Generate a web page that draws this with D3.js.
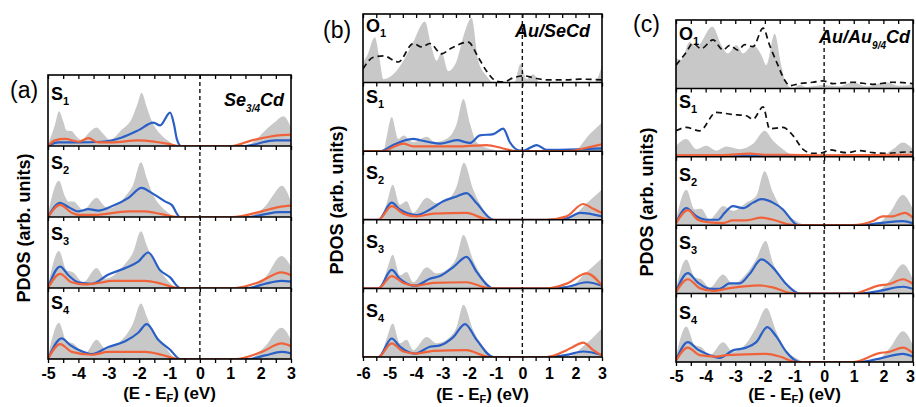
<!DOCTYPE html>
<html>
<head>
<meta charset="utf-8">
<script src="https://cdn.jsdelivr.net/npm/d3@7"></script>
<style>
  body { margin: 0; background: #fff; }
  svg { display: block; font-family: "Liberation Sans", Arial, sans-serif; }
</style>
</head>
<body>
<svg id="chart" width="916" height="407"></svg>
<script>
// ===== data: [E - E_F (eV), PDOS in % of sub-panel height] =====
// panel (a) Se3/4Cd
const aS1tot = [[-5,3],[-4.77,30],[-4.64,49],[-4.5,35],[-4.39,22],[-4.22,21],[-4.1,15],[-3.89,8],[-3.67,18],[-3.4,26],[-3.2,18],[-2.96,9],[-2.6,22],[-2.25,38],[-2.05,60],[-1.92,75],[-1.75,55],[-1.59,36],[-1.26,15],[-1.0,6],[-0.71,0],[1.4,0],[1.71,4],[2.15,22],[2.45,33],[2.75,42],[3,26]];
const aS1b = [[-5,0],[-4.66,5],[-4.0,5],[-3.23,6],[-2.57,12],[-2.03,22],[-1.53,33],[-1.31,29],[-0.98,47],[-0.85,30],[-0.76,10],[-0.62,0],[1.49,0],[1.8,2],[2.04,5],[2.48,8],[3,8]];
const aS1r = [[-5,0],[-4.77,8],[-4.44,10],[-4.0,6],[-3.67,11],[-3.34,5],[-2.9,5],[-2.03,8],[-1.48,6],[-1.04,3],[-0.71,0],[1.05,0],[1.71,8],[2.15,12],[2.59,15],[3,16]];
const aS2tot = [[-5,5],[-4.64,51],[-4.45,30],[-4.33,22],[-4.17,22],[-3.84,10],[-3.4,27],[-3.2,18],[-3.01,12],[-2.46,29],[-2.2,45],[-1.94,77],[-1.75,55],[-1.59,36],[-1.15,10],[-0.71,0],[1.49,0],[2.15,15],[2.4,30],[2.7,44],[3,22]];
const aS2b = [[-5,0],[-4.6,20],[-4.33,14],[-4.0,8],[-3.67,11],[-3.34,9],[-2.9,15],[-2.35,27],[-1.92,41],[-1.59,34],[-1.15,22],[-0.93,17],[-0.65,0],[1.6,0],[2.15,4],[2.59,7],[3,7]];
const aS2r = [[-5,0],[-4.6,17],[-4.22,6],[-4.0,3],[-3.45,3],[-2.35,8],[-1.81,8],[-1.26,4],[-0.71,0],[1.05,0],[2.04,8],[2.59,14],[3,16]];
const aS3tot = [[-5,3],[-4.64,52],[-4.39,25],[-4.17,22],[-3.84,8],[-3.4,28],[-3.12,13],[-2.46,34],[-2.2,50],[-1.94,80],[-1.75,60],[-1.59,44],[-1.2,18],[-0.71,0],[1.49,0],[2.15,15],[2.69,45],[3,30]];
const aS3b = [[-5,0],[-4.6,30],[-4.33,18],[-4.0,8],[-3.56,6],[-3.01,19],[-2.46,28],[-2.03,37],[-1.7,50],[-1.31,25],[-0.98,15],[-0.65,0],[1.6,0],[2.15,6],[2.69,10],[3,9]];
const aS3r = [[-5,0],[-4.6,20],[-4.22,8],[-3.78,5],[-3.34,7],[-2.9,10],[-1.81,10],[-1.26,6],[-0.71,0],[1.16,0],[1.93,8],[2.69,22],[3,18]];
const aS4tot = [[-5,3],[-4.64,51],[-4.39,25],[-4.17,22],[-3.78,8],[-3.4,27],[-3.12,15],[-2.46,32],[-2.2,50],[-1.94,78],[-1.75,60],[-1.59,44],[-1.2,20],[-0.71,0],[1.6,0],[2.15,18],[2.69,44],[3,27]];
const aS4b = [[-5,0],[-4.55,29],[-4.28,20],[-4.0,13],[-3.56,7],[-3.01,17],[-2.46,25],[-2.03,37],[-1.75,49],[-1.37,27],[-0.98,13],[-0.65,0],[1.6,0],[2.15,5],[2.69,10],[3,8]];
const aS4r = [[-5,0],[-4.6,21],[-4.22,10],[-3.56,6],[-3.01,10],[-1.81,10],[-1.26,6],[-0.71,0],[1.16,0],[2.04,10],[2.69,22],[3,18]];

// panel (b) Au/SeCd
const bO1tot = [[-6,30],[-5.86,38],[-5.55,66],[-5.4,40],[-5.23,5],[-4.86,12],[-4.48,32],[-4.11,59],[-3.67,89],[-3.42,52],[-3.23,32],[-3.04,44],[-2.79,17],[-2.47,32],[-2.2,70],[-1.91,94],[-1.66,32],[-1.35,10],[-1.09,0],[-0.3,0],[-0.07,27],[0.16,5],[0.41,12],[0.66,0],[2.7,0],[3,25]];
const bO1dash = [[-6,20],[-5.61,37],[-5.23,39],[-4.67,30],[-4.11,57],[-3.79,52],[-3.48,57],[-3.04,42],[-2.73,49],[-2.04,59],[-1.66,37],[-1.35,17],[-0.97,2],[-0.72,1],[-0.34,7],[0.04,10],[0.41,7],[0.91,4],[1.67,4],[2.17,5],[3,4]];
const bS1tot = [[-6,0],[-5.23,0],[-5.11,21],[-4.92,50],[-4.67,18],[-4.48,23],[-4.11,13],[-3.6,21],[-3.29,13],[-2.85,18],[-2.47,40],[-2.22,76],[-1.97,40],[-1.72,13],[-1.09,2],[-0.84,0],[1.92,0],[2.54,25],[3,42]];
const bS1b = [[-6,0],[-5.36,0],[-4.86,9],[-4.48,15],[-4.11,18],[-3.85,16],[-3.48,13],[-3.1,11],[-2.47,16],[-1.97,12],[-1.6,23],[-1.09,25],[-0.72,33],[-0.47,13],[-0.09,1],[0.04,1],[0.54,9],[0.91,2],[1.42,2],[3,4]];
const bS1r = [[-6,0],[-5.23,0],[-4.86,6],[-4.48,11],[-4.11,7],[-3.6,7],[-2.35,7],[-1.35,9],[-0.72,4],[-0.22,0],[1.67,0],[2.42,5],[3,10]];
const bS2tot = [[-6,0],[-5.36,0],[-5.11,24],[-4.88,51],[-4.61,22],[-4.36,27],[-4.11,10],[-3.6,32],[-3.23,24],[-2.73,32],[-2.47,49],[-2.2,83],[-1.85,44],[-1.47,15],[-1.09,1],[-0.9,0],[1.67,0],[2.42,24],[3,44]];
const bS2b = [[-6,0],[-5.42,0],[-4.92,25],[-4.61,15],[-3.98,7],[-3.48,15],[-2.98,27],[-2.47,34],[-2.1,39],[-1.72,24],[-1.09,0],[0.91,0],[1.67,2],[2.17,10],[3,5]];
const bS2r = [[-6,0],[-5.42,0],[-4.92,20],[-4.48,9],[-3.98,5],[-3.35,9],[-2.1,10],[-1.47,2],[-1.2,0],[0.91,0],[1.67,5],[2.29,23],[2.67,16],[3,10]];
const bS3tot = [[-6,0],[-5.36,0],[-5.11,26],[-4.88,49],[-4.61,19],[-4.36,24],[-4.11,9],[-3.6,31],[-3.23,22],[-2.73,31],[-2.47,46],[-2.22,78],[-1.85,41],[-1.47,14],[-1.09,1],[-0.9,0],[1.67,0],[2.42,24],[3,44]];
const bS3b = [[-6,0],[-5.42,0],[-4.92,27],[-4.61,14],[-4.04,4],[-3.48,14],[-3.1,18],[-2.6,31],[-2.1,46],[-1.72,24],[-1.09,0],[0.91,0],[1.67,2],[2.42,9],[3,4]];
const bS3r = [[-6,0],[-5.42,0],[-4.92,18],[-4.48,8],[-3.98,4],[-3.35,8],[-2.1,9],[-1.47,2],[-1.2,0],[0.91,0],[1.67,7],[2.42,22],[3,4]];
const bS4tot = [[-6,0],[-5.36,0],[-5.11,27],[-4.88,49],[-4.61,20],[-4.36,25],[-4.11,10],[-3.6,29],[-3.23,20],[-2.73,29],[-2.47,44],[-2.22,76],[-1.85,39],[-1.47,15],[-1.09,1],[-0.9,0],[1.67,0],[2.42,20],[3,42]];
const bS4b = [[-6,0],[-5.42,0],[-4.92,27],[-4.61,15],[-4.04,5],[-3.48,15],[-3.1,17],[-2.6,29],[-2.16,48],[-1.72,25],[-1.09,0],[0.91,0],[1.67,3],[2.29,8],[3,3]];
const bS4r = [[-6,0],[-5.42,0],[-4.92,20],[-4.48,8],[-3.98,5],[-3.35,9],[-2.1,10],[-1.47,2],[-1.2,0],[0.91,0],[1.67,10],[1.92,15],[2.29,21],[2.67,10],[3,2]];

// panel (c) Au/Au9/4Cd
const cO1tot = [[-5,44],[-4.82,42],[-4.54,68],[-4.31,61],[-3.77,90],[-3.47,63],[-3.25,51],[-2.96,63],[-2.74,51],[-2.4,63],[-2.12,49],[-1.95,34],[-1.67,80],[-1.45,34],[-1.28,7],[-1.05,0],[-0.83,5],[-0.6,2],[-0.38,3],[-0.04,5],[0.5,3],[0.97,9],[1.42,3],[2.1,9],[2.5,4],[3,5]];
const cO1dash = [[-5,34],[-4.65,53],[-4.43,66],[-4.15,58],[-3.75,71],[-3.41,56],[-3.19,63],[-2.91,56],[-2.68,64],[-2.4,61],[-2.06,88],[-1.84,63],[-1.56,34],[-1.33,12],[-1.16,4],[-0.83,7],[-0.38,9],[-0.04,11],[0.3,7],[0.97,9],[1.65,6],[2.32,9],[3,7]];
const cS1tot = [[-5,16],[-4.65,26],[-4.31,11],[-3.98,16],[-3.64,9],[-3.3,15],[-2.85,11],[-2.4,19],[-2.01,38],[-1.73,24],[-1.39,11],[-1.05,2],[-0.6,0],[1.87,0],[2.32,11],[2.66,21],[3,11]];
const cS1dash = [[-5,38],[-4.65,43],[-4.2,38],[-3.64,65],[-3.13,62],[-2.63,60],[-2.4,55],[-2.06,73],[-1.84,41],[-1.39,43],[-1.05,31],[-0.71,11],[-0.38,5],[-0.04,6],[0.19,10],[0.75,6],[1.2,9],[1.65,6],[2.1,5],[2.77,7],[3,7]];
const cS1b = [[-5,1.5],[3,1.5]];
const cS1r = [[-5,2],[-3.4,2.5],[-2.51,4.5],[-1.95,3],[-1.16,3],[-0.04,2],[3,3]];
const cS2tot = [[-5,8],[-4.65,52],[-4.37,23],[-4.15,24],[-3.86,8],[-3.64,18],[-3.41,28],[-3.08,21],[-2.63,33],[-2.29,43],[-2.01,79],[-1.73,48],[-1.39,21],[-0.94,6],[-0.6,0],[1.65,0],[2.21,18],[2.66,44],[3,23]];
const cS2b = [[-5,3],[-4.65,25],[-4.31,13],[-3.98,8],[-3.58,8],[-3.36,18],[-3.08,28],[-2.74,25],[-2.4,33],[-2.12,38],[-1.73,33],[-1.39,23],[-1.16,11],[-0.94,1],[-0.83,0],[1.2,0],[1.87,3],[2.66,6],[3,3]];
const cS2r = [[-5,3],[-4.6,22],[-4.26,8],[-3.86,4],[-3.41,3],[-3.08,7],[-2.63,7],[-2.12,11],[-1.73,8],[-1.16,1],[-0.9,0],[0.97,0],[1.65,6],[1.98,13],[2.32,13],[2.72,18],[3,11]];
const cS3tot = [[-5,7],[-4.65,50],[-4.37,24],[-4.15,21],[-3.86,9],[-3.41,28],[-3.08,14],[-2.63,29],[-2.3,50],[-1.97,77],[-1.73,45],[-1.39,21],[-0.94,4],[-0.71,0],[1.65,0],[2.21,19],[2.66,43],[3,21]];
const cS3b = [[-5,3],[-4.6,30],[-4.26,16],[-3.86,7],[-3.53,7],[-3.19,15],[-2.85,15],[-2.51,29],[-2.12,50],[-1.73,38],[-1.28,14],[-0.83,0],[1.2,0],[1.87,4],[2.66,10],[3,7]];
const cS3r = [[-5,2],[-4.6,21],[-4.2,8],[-3.75,4],[-3.19,8],[-2.18,12],[-1.73,9],[-1.16,1],[-0.9,0],[0.97,0],[1.87,12],[2.21,14],[2.66,21],[3,14]];
const cS4tot = [[-5,8],[-4.65,52],[-4.37,25],[-4.15,22],[-3.86,10],[-3.41,29],[-3.08,15],[-2.63,27],[-2.3,50],[-1.95,79],[-1.61,44],[-1.28,17],[-0.83,3],[-0.71,0],[1.65,0],[2.21,20],[2.66,45],[3,25]];
const cS4b = [[-5,3],[-4.6,29],[-4.26,18],[-3.86,10],[-3.53,6],[-3.08,17],[-2.63,21],[-2.29,29],[-1.92,51],[-1.61,37],[-1.28,15],[-0.83,0],[1.2,0],[1.87,5],[2.66,12],[3,8]];
const cS4r = [[-5,2],[-4.6,21],[-4.2,10],[-3.64,8],[-3.3,10],[-1.95,12],[-1.5,8],[-1.05,1],[-0.9,0],[0.97,0],[1.87,13],[2.21,15],[2.66,21],[3,13]];

const BLUE = '#2a5fc6', RED = '#f0633a', GREY = '#c8c8c8';

const svg = d3.select('#chart');

// panel layout
const panels = [
  { tag:'(a)', tagX:10, tagY:98, x0:48, x1:291, y0:75, y1:359, xmin:-5, xmax:3,
    title:['Se','3/4','Cd'], titleX:284, titleY:106, ylabX:30, ylabY:228, tickPad:5, xlabY:399,
    rows:[
      {lab:'S', sub:'1', off:25, tot:aS1tot, b:aS1b, r:aS1r},
      {lab:'S', sub:'2', off:23, tot:aS2tot, b:aS2b, r:aS2r},
      {lab:'S', sub:'3', off:23, tot:aS3tot, b:aS3b, r:aS3r},
      {lab:'S', sub:'4', off:21, tot:aS4tot, b:aS4b, r:aS4r}
    ]},
  { tag:'(b)', tagX:323, tagY:38, x0:363, x1:602, y0:14, y1:357, xmin:-6, xmax:3,
    title:['Au/SeCd'], titleX:590, titleY:37, ylabX:343, ylabY:200, tickPad:7, xlabY:400,
    rows:[
      {lab:'O', sub:'1', off:18, tot:bO1tot, dash:bO1dash},
      {lab:'S', sub:'1', off:20, tot:bS1tot, b:bS1b, r:bS1r},
      {lab:'S', sub:'2', off:28, tot:bS2tot, b:bS2b, r:bS2r},
      {lab:'S', sub:'3', off:28, tot:bS3tot, b:bS3b, r:bS3r},
      {lab:'S', sub:'4', off:29, tot:bS4tot, b:bS4b, r:bS4r}
    ]},
  { tag:'(c)', tagX:633, tagY:32, x0:676, x1:913, y0:20, y1:362, xmin:-5, xmax:3,
    title:['Au/Au','9/4','Cd'], titleX:910, titleY:43, ylabX:653, ylabY:202, tickPad:5, xlabY:400,
    rows:[
      {lab:'O', sub:'1', off:20, tot:cO1tot, dash:cO1dash},
      {lab:'S', sub:'1', off:20, tot:cS1tot, dash:cS1dash, b:cS1b, r:cS1r},
      {lab:'S', sub:'2', off:24, tot:cS2tot, b:cS2b, r:cS2r},
      {lab:'S', sub:'3', off:24, tot:cS3tot, b:cS3b, r:cS3r},
      {lab:'S', sub:'4', off:25, tot:cS4tot, b:cS4b, r:cS4r}
    ]}
];

panels.forEach((p, pi) => {
  const g = svg.append('g');
  const x = d3.scaleLinear().domain([p.xmin, p.xmax]).range([p.x0, p.x1]);
  const band = d3.scaleBand().domain(d3.range(p.rows.length)).range([p.y0, p.y1]);
  const h = band.bandwidth();
  const halfTicks = d3.range(p.xmin, p.xmax + 0.001, 0.5);

  p.rows.forEach((r, i) => {
    const top = band(i);
    const y = d3.scaleLinear().domain([0, 100]).range([top + h, top]);
    const cid = `clip-${pi}-${i}`;
    svg.append('clipPath').attr('id', cid).append('rect')
      .attr('x', p.x0).attr('y', top).attr('width', p.x1 - p.x0).attr('height', h);
    const sub = g.append('g').attr('clip-path', `url(#${cid})`);

    const area = d3.area().curve(d3.curveMonotoneX)
      .x(d => x(d[0])).y0(y(0)).y1(d => y(d[1]));
    const line = d3.line().curve(d3.curveMonotoneX)
      .x(d => x(d[0])).y(d => y(d[1]));

    sub.append('path').attr('d', area(r.tot)).attr('fill', GREY);
    if (r.dash) sub.append('path').attr('d', line(r.dash))
      .attr('fill', 'none').attr('stroke', '#111').attr('stroke-width', 1.7)
      .attr('stroke-dasharray', '6,4');
    if (r.b) sub.append('path').attr('d', line(r.b))
      .attr('fill', 'none').attr('stroke', BLUE).attr('stroke-width', 2.2);
    if (r.r) sub.append('path').attr('d', line(r.r))
      .attr('fill', 'none').attr('stroke', RED).attr('stroke-width', 2.2);

    // inward ticks on top edge of each sub-panel
    const ax = g.append('g').attr('transform', `translate(0,${top})`)
      .call(d3.axisTop(x).tickValues(halfTicks).tickSize(-4).tickFormat(''));
    ax.select('.domain').remove();
    ax.selectAll('line').attr('stroke', '#000').attr('stroke-width', 1.3);

    // row label
    const t = g.append('text').attr('x', p.x0 + 3).attr('y', top + r.off)
      .attr('font-size', 18).attr('font-weight', 'bold');
    t.append('tspan').text(r.lab);
    t.append('tspan').attr('font-size', 11).attr('dy', 5).text(r.sub);

    if (i > 0) g.append('line').attr('x1', p.x0).attr('x2', p.x1)
      .attr('y1', top).attr('y2', top).attr('stroke', '#000').attr('stroke-width', 1.5);
  });

  // Fermi level
  g.append('line').attr('x1', x(0)).attr('x2', x(0)).attr('y1', p.y0).attr('y2', p.y1)
    .attr('stroke', '#111').attr('stroke-width', 1.4).attr('stroke-dasharray', '4,3');

  // frame
  g.append('rect').attr('x', p.x0).attr('y', p.y0)
    .attr('width', p.x1 - p.x0).attr('height', p.y1 - p.y0)
    .attr('fill', 'none').attr('stroke', '#000').attr('stroke-width', 1.6);

  // bottom axis
  const bx = g.append('g').attr('transform', `translate(0,${p.y1})`)
    .call(d3.axisBottom(x).tickValues(halfTicks).tickSize(4).tickPadding(p.tickPad)
      .tickFormat(d => Number.isInteger(d) ? String(d) : ''));
  bx.select('.domain').remove();
  bx.selectAll('line').attr('stroke', '#000').attr('stroke-width', 1.3);
  bx.selectAll('text').attr('font-family', '"Liberation Sans", Arial, sans-serif')
    .attr('font-size', 16).attr('font-weight', 'bold').attr('fill', '#000')
    .attr('dx', d => (x(d) > 905 ? -3 : 0));

  // x label
  const xl = g.append('text').attr('x', (p.x0 + p.x1) / 2).attr('y', p.xlabY)
    .attr('text-anchor', 'middle').attr('font-size', 17).attr('font-weight', 'bold');
  xl.append('tspan').text('(E - E');
  xl.append('tspan').attr('font-size', 11).attr('dy', 3).text('F');
  xl.append('tspan').attr('dy', -3).text(') (eV)');

  // y label
  g.append('text').attr('transform', `translate(${p.ylabX},${p.ylabY}) rotate(-90)`)
    .attr('text-anchor', 'middle').attr('font-size', 18).attr('font-weight', 'bold')
    .text('PDOS (arb. units)');

  // panel tag
  g.append('text').attr('x', p.tagX).attr('y', p.tagY).attr('font-size', 23).text(p.tag);

  // system title
  const tt = g.append('text').attr('x', p.titleX).attr('y', p.titleY)
    .attr('text-anchor', 'end').attr('font-size', 18).attr('font-weight', 'bold')
    .attr('font-style', 'italic');
  tt.append('tspan').text(p.title[0]);
  if (p.title.length > 1) {
    tt.append('tspan').attr('font-size', 10).attr('dy', 6).text(p.title[1]);
    tt.append('tspan').attr('dy', -6).text(p.title[2]);
  }
});
</script>
</body>
</html>
